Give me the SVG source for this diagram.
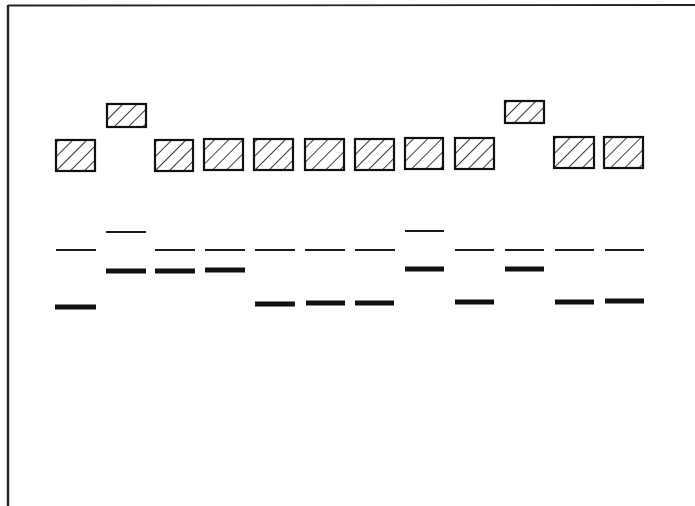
<svg xmlns="http://www.w3.org/2000/svg" width="695" height="506" viewBox="0 0 695 506">
<defs>
<pattern id="hatch" patternUnits="userSpaceOnUse" width="10" height="10" patternTransform="rotate(45)">
<line x1="0" y1="0" x2="0" y2="10" stroke="#1a1a1a" stroke-width="1.7"/>
</pattern>
</defs>
<style>
.box{fill:url(#hatch);stroke:#111;stroke-width:2.2}
.thin{stroke:#1a1a1a;stroke-width:2}
.thick{stroke:#111;stroke-width:5}
.frame{fill:none;stroke:#222}
</style>
<rect width="695" height="506" fill="#fff"/>
<g id="frame">
<line class="frame" x1="8" y1="5.5" x2="695" y2="5" stroke-width="1.8"/>
<line class="frame" x1="8" y1="5" x2="8" y2="506" stroke-width="2.4"/>
</g>
<g id="lane1"><rect class="box" x="56" y="140" width="39" height="31"/><line class="thin" x1="56" y1="250" x2="96" y2="250"/><line class="thick" x1="55" y1="307" x2="96" y2="307"/></g>
<g id="lane2"><rect class="box" x="107" y="104" width="39" height="23"/><line class="thin" x1="106" y1="232" x2="146" y2="232"/><line class="thick" x1="106" y1="271" x2="146" y2="271"/></g>
<g id="lane3"><rect class="box" x="155" y="140" width="38" height="31"/><line class="thin" x1="155" y1="250" x2="195" y2="250"/><line class="thick" x1="155" y1="271" x2="195" y2="271"/></g>
<g id="lane4"><rect class="box" x="204" y="139" width="39" height="31"/><line class="thin" x1="205" y1="250" x2="245" y2="250"/><line class="thick" x1="205" y1="270" x2="245" y2="270"/></g>
<g id="lane5"><rect class="box" x="254" y="139" width="39" height="31"/><line class="thin" x1="255" y1="250" x2="295" y2="250"/><line class="thick" x1="255" y1="304" x2="295" y2="304"/></g>
<g id="lane6"><rect class="box" x="305" y="139" width="39" height="31"/><line class="thin" x1="305" y1="250" x2="345" y2="250"/><line class="thick" x1="306" y1="303" x2="345" y2="303"/></g>
<g id="lane7"><rect class="box" x="355" y="139" width="39" height="31"/><line class="thin" x1="355" y1="250" x2="395" y2="250"/><line class="thick" x1="355" y1="303" x2="394" y2="303"/></g>
<g id="lane8"><rect class="box" x="405" y="138" width="38" height="31"/><line class="thin" x1="405" y1="231" x2="444" y2="231"/><line class="thick" x1="405" y1="269" x2="444" y2="269"/></g>
<g id="lane9"><rect class="box" x="455" y="138" width="39" height="31"/><line class="thin" x1="455" y1="250" x2="494" y2="250"/><line class="thick" x1="455" y1="302" x2="494" y2="302"/></g>
<g id="lane10"><rect class="box" x="505" y="101" width="39" height="22"/><line class="thin" x1="505" y1="250" x2="544" y2="250"/><line class="thick" x1="505" y1="269" x2="544" y2="269"/></g>
<g id="lane11"><rect class="box" x="554" y="137" width="40" height="31"/><line class="thin" x1="555" y1="250" x2="594" y2="250"/><line class="thick" x1="555" y1="302" x2="594" y2="302"/></g>
<g id="lane12"><rect class="box" x="604" y="137" width="39" height="31"/><line class="thin" x1="605" y1="250" x2="644" y2="250"/><line class="thick" x1="605" y1="301" x2="644" y2="301"/></g>
</svg>
